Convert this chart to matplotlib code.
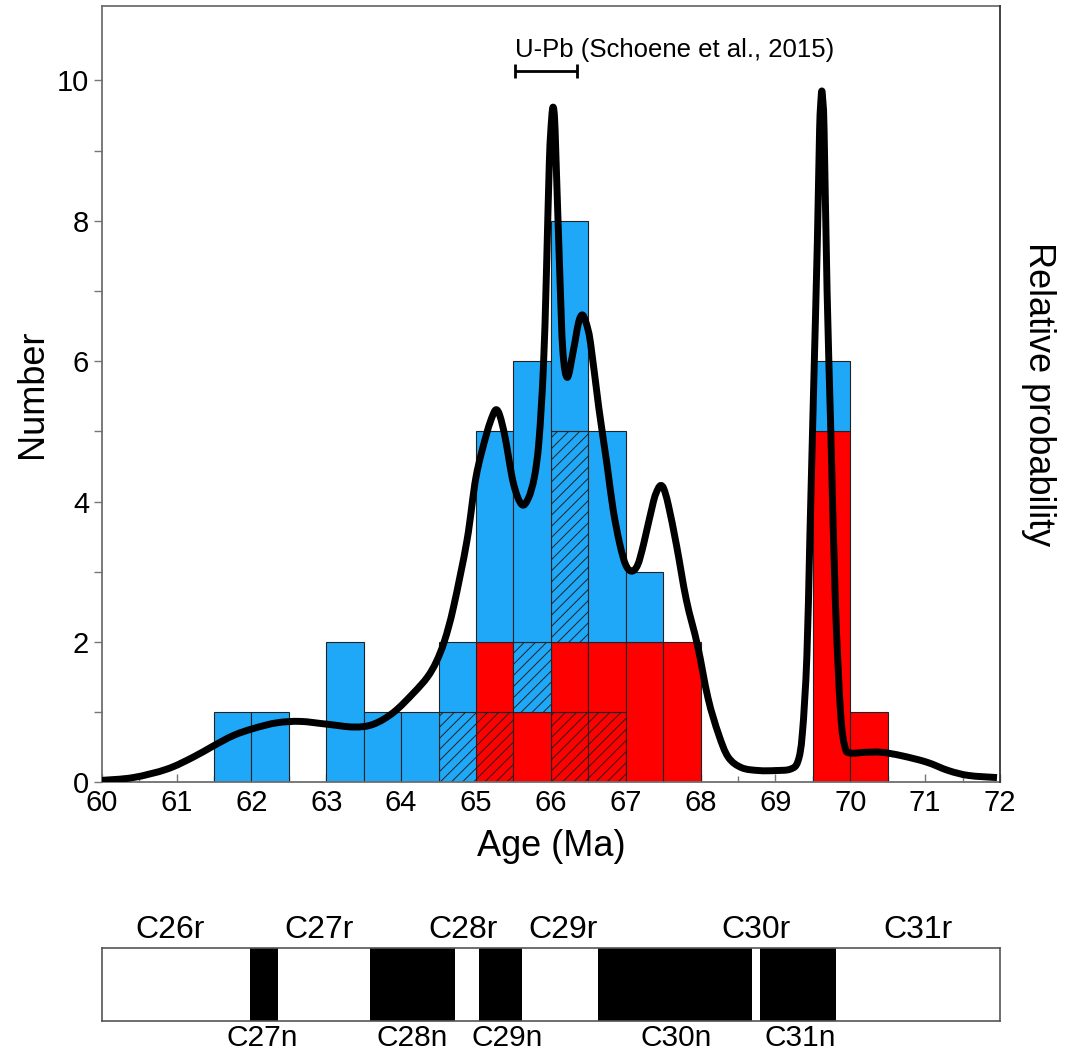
import numpy as np
import matplotlib.pyplot as plt
from matplotlib.path import Path
from matplotlib.patches import PathPatch

plt.rcParams['font.family'] = ['Liberation Sans', 'DejaVu Sans']
plt.rcParams['hatch.linewidth'] = 0.7

# histogram: left edge of each 0.5 Ma bin and the stacked counts (bottom to top)
bin_left = [61.5, 62.0, 63.0, 63.5, 64.0, 64.5, 65.0, 65.5, 66.0, 66.5, 67.0, 67.5, 69.5, 70.0]
red_hatched = [0, 0, 0, 0, 0, 0, 1, 0, 1, 1, 0, 0, 0, 0]
red_plain = [0, 0, 0, 0, 0, 0, 1, 1, 1, 1, 2, 2, 5, 1]
blue_hatched = [0, 0, 0, 0, 0, 1, 0, 1, 3, 0, 0, 0, 0, 0]
blue_plain = [1, 1, 2, 1, 1, 1, 3, 4, 3, 3, 1, 0, 1, 0]

# probability density curve (in "Number" units)
pdf_age = [60.00, 60.42, 60.87, 61.22, 61.49, 61.76, 62.03, 62.34, 62.65, 63.01,
           63.37, 63.63, 63.90, 64.17, 64.35, 64.47, 64.58, 64.70, 64.88, 65.00, 65.14,
           65.22, 65.27, 65.32, 65.39, 65.50, 65.61, 65.70, 65.78, 65.84, 65.90,
           65.94, 65.98, 66.01, 66.03, 66.05, 66.07, 66.12, 66.16, 66.22, 66.30,
           66.37, 66.42, 66.47, 66.53, 66.64, 66.75, 66.83, 66.92, 67.00, 67.08,
           67.16, 67.24, 67.37, 67.43, 67.47, 67.51, 67.57, 67.68, 67.81, 67.96,
           68.10, 68.24, 68.37, 68.55, 68.78, 69.00, 69.20, 69.30, 69.36, 69.42,
           69.46, 69.51, 69.56, 69.59, 69.61, 69.62, 69.63, 69.65, 69.69, 69.74,
           69.80, 69.87, 69.93, 70.00, 70.20, 70.42, 70.69, 71.02, 71.31, 71.58, 71.96]
pdf_val = [0.03, 0.07, 0.19, 0.36, 0.52, 0.67, 0.77, 0.85, 0.87, 0.83,
           0.79, 0.83, 1.00, 1.28, 1.50, 1.72, 2.02, 2.50, 3.45, 4.35, 4.96,
           5.22, 5.31, 5.22, 4.91, 4.26, 3.96, 4.05, 4.35, 4.85, 5.90,
           7.23, 8.85, 9.45, 9.62, 9.45, 8.85, 7.23, 6.15, 5.77, 6.15,
           6.55, 6.66, 6.55, 6.26, 5.34, 4.53, 3.90, 3.40, 3.10, 3.01,
           3.10, 3.40, 4.00, 4.18, 4.23, 4.18, 3.95, 3.37, 2.60, 1.95,
           1.20, 0.69, 0.36, 0.21, 0.17, 0.17, 0.19, 0.30, 0.70, 1.80,
           3.50, 5.60, 7.70, 9.30, 9.75, 9.85, 9.75, 9.30, 7.00, 5.00,
           2.60, 1.00, 0.50, 0.42, 0.43, 0.43, 0.38, 0.29, 0.17, 0.10, 0.07]

# U-Pb age range (Schoene et al., 2015)
upb_range = [65.52, 66.35]

# magnetic polarity chrons: normal (black) intervals and labels
normal_chrons = [(61.98, 62.36), (63.58, 64.72), (65.04, 65.61), (66.63, 68.69), (68.79, 69.81)]
chron_top = ['C26r', 'C27r', 'C28r', 'C29r', 'C30r', 'C31r']
chron_top_x = [60.91, 62.90, 64.83, 66.16, 68.74, 70.91]
chron_bot = ['C27n', 'C28n', 'C29n', 'C30n', 'C31n']
chron_bot_x = [62.15, 64.15, 65.41, 67.67, 69.33]


def smooth_path(xs, ys):
    # Catmull-Rom through the read points, drawn as cubic Bezier segments
    p = np.column_stack([xs, ys])
    ext = np.vstack([p[0], p, p[-1]])
    verts = [p[0]]
    codes = [Path.MOVETO]
    for i in range(len(p) - 1):
        p0, p1, p2, p3 = ext[i], ext[i + 1], ext[i + 2], ext[i + 3]
        verts += [p1 + (p2 - p0) / 6.0, p2 - (p3 - p1) / 6.0, p2]
        codes += [Path.CURVE4] * 3
    return Path(verts, codes)


fig = plt.figure(figsize=(10.74, 10.53), dpi=100)
ax = fig.add_axes([0.0947, 0.2569, 0.8364, 0.7374])

left = np.array(bin_left)
bottom = np.zeros(len(left))
layers = [(red_hatched, '#ff0000', '///'), (red_plain, '#ff0000', None),
          (blue_hatched, '#1fa8f8', '///'), (blue_plain, '#1fa8f8', None)]
for vals, color, hatch in layers:
    vals = np.array(vals, dtype=float)
    m = vals > 0
    ax.bar(left[m], vals[m], width=0.5, bottom=bottom[m], align='edge', color=color,
           edgecolor='#222222', linewidth=0.8, hatch=hatch, zorder=2)
    bottom += vals

ax.set_xlim(60, 72)
ax.set_ylim(0, 11.06)
ax.set_xticks(range(60, 73))
ax.set_xticks(np.arange(60.5, 72, 1.0), minor=True)
ax.set_yticks(range(0, 11, 2))
ax.set_yticks(range(1, 11, 2), minor=True)
ax.tick_params(axis='x', direction='in', length=6, width=1, color='#777777', labelsize=21, pad=5)
ax.tick_params(axis='x', which='minor', direction='in', length=4, width=1, color='#777777')
ax.tick_params(axis='y', direction='out', length=6, width=1, color='#777777', labelsize=21, pad=3)
ax.tick_params(axis='y', which='minor', direction='out', length=6, width=1, color='#777777')
for s in ['left', 'bottom', 'top']:
    ax.spines[s].set_color('#6e6e6e')
    ax.spines[s].set_linewidth(1.3)
ax.spines['right'].set_visible(False)
ax.set_xlabel('Age (Ma)', fontsize=26, labelpad=8)
ax.set_ylabel('Number', fontsize=26, labelpad=5)

# U-Pb bar and label
ax.errorbar([np.mean(upb_range)], [10.14], xerr=[(upb_range[1] - upb_range[0]) / 2],
            fmt='none', ecolor='black', elinewidth=2, capsize=5, capthick=2, zorder=4)
ax.text(upb_range[0], 10.33, 'U-Pb (Schoene et al., 2015)', fontsize=18.5, ha='left', va='baseline')

# relative probability curve on a twin axis
ax2 = ax.twinx()
ax2.add_patch(PathPatch(smooth_path(pdf_age, pdf_val), fill=False, edgecolor='black',
                        lw=5, joinstyle='round', capstyle='butt'))
ax2.set_xlim(60, 72)
ax2.set_ylim(0, 11.06)
ax2.set_yticks([])
for s in ['left', 'bottom', 'top']:
    ax2.spines[s].set_visible(False)
ax2.spines['right'].set_color('#333333')
ax2.spines['right'].set_linewidth(1.3)
ax2.set_ylabel('Relative probability', fontsize=26, rotation=270, labelpad=40)

# polarity column
axc = fig.add_axes([0.0947, 0.0304, 0.8364, 0.0693])
axc.set_xlim(60, 72)
axc.set_ylim(0, 1)
for a, b in normal_chrons:
    axc.axvspan(a, b, color='black', lw=0)
axc.set_xticks([])
axc.set_yticks([])
for s in axc.spines.values():
    s.set_color('#555555')
    s.set_linewidth(1.2)
for name, x in zip(chron_top, chron_top_x):
    axc.text(x, 1.04, name, ha='center', va='bottom', fontsize=23, clip_on=False)
for name, x in zip(chron_bot, chron_bot_x):
    axc.text(x, -0.34, name, ha='center', va='baseline', fontsize=21.5, clip_on=False)

fig.savefig('out.png', dpi=100)
